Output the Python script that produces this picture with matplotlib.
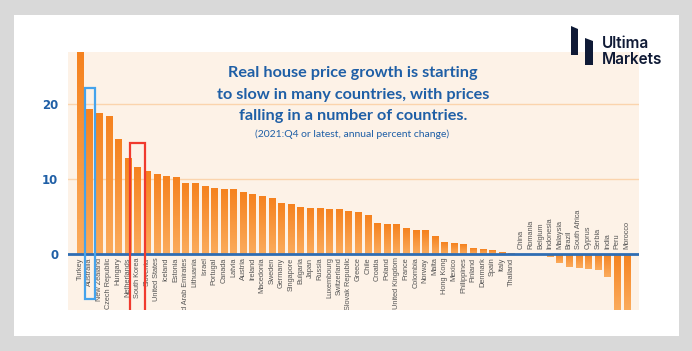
import numpy as np
import matplotlib
matplotlib.use("Agg")
import matplotlib.pyplot as plt
from matplotlib.patches import Rectangle, Polygon
from matplotlib.colors import LinearSegmentedColormap

# data (annual % change, 2021:Q4 or latest)
countries = [
    "Turkey", "Australia", "New Zealand", "Czech Republic", "Hungary",
    "Netherlands", "South Korea", "Slovenia", "United States", "Iceland",
    "Estonia", "United Arab Emirates", "Lithuania", "Israel", "Portugal",
    "Canada", "Latvia", "Austria", "Ireland", "Macedonia", "Sweden",
    "Germany", "Singapore", "Bulgaria", "Japan", "Russia", "Luxembourg",
    "Switzerland", "Slovak Republic", "Greece", "Chile", "Croatia", "Poland",
    "United Kingdom", "France", "Colombia", "Norway", "Malta", "Hong Kong",
    "Mexico", "Philippines", "Finland", "Denmark", "Spain", "Italy",
    "Thailand", "China", "Romania", "Belgium", "Indonesia", "Malaysia",
    "Brazil", "South Africa", "Cyprus", "Serbia", "India", "Peru", "Morocco",
]
growth = [
    59.0, 19.3, 18.8, 18.4, 15.3, 12.8, 11.6, 11.1, 10.6, 10.4,
    10.3, 9.5, 9.5, 9.0, 8.8, 8.7, 8.65, 8.2, 8.0, 7.7, 7.4,
    6.7, 6.6, 6.2, 6.15, 6.1, 5.9, 5.9, 5.65, 5.5, 5.2, 4.05, 4.0,
    3.9, 3.4, 3.1, 3.1, 2.3, 1.6, 1.45, 1.25, 0.7, 0.6, 0.45, 0.2,
    0.05, -0.05, -0.1, -0.2, -0.4, -1.3, -1.75, -1.9, -2.05, -2.2,
    -3.1, -10.0, -10.0,
]
yticks = [0, 10, 20]
highlights = [("Australia", "#45a3ec", 22.2, -6.1, 0.52),
              ("South Korea", "#f03a2e", 14.8, -9.0, 0.74)]

title = ("Real house price growth is starting\n"
         "to slow in many countries, with prices\n"
         "falling in a number of countries.")
subtitle = "(2021:Q4 or latest, annual percent change)"

BLUE = "#1f5fa6"
PANEL = "#fdf2e7"
GRID = "#fbd4ad"
YLIM = (-7.56, 26.97)

W, H = 692, 351
fig = plt.figure(figsize=(W / 100, H / 100), dpi=100)
fig.patch.set_facecolor("#d9d9d9")

# white card behind everything
fig.patches.append(Rectangle((14 / W, 1 - 336 / H), 665 / W, 321 / H,
                             transform=fig.transFigure, facecolor="white",
                             edgecolor="none", zorder=-5))

ax = fig.add_axes([68 / W, 1 - 310 / H, 571 / W, 258 / H])
ax.set_facecolor(PANEL)
for s in ax.spines.values():
    s.set_visible(False)

x = np.arange(len(countries))

for t in yticks[1:]:
    ax.axhline(t, color=GRID, lw=1.0, zorder=1)

cmap = LinearSegmentedColormap.from_list("bar", ["#fbab5c", "#f5821f"])
bars = ax.bar(x, growth, width=0.66, color="#f68b2c", zorder=2)
grad = np.linspace(0, 1, 64).reshape(-1, 1)
for b in bars:
    x0, y0 = b.get_x(), b.get_y()
    x1, y1 = x0 + b.get_width(), y0 + b.get_height()
    lo = max(min(y0, y1), YLIM[0])
    hi = min(max(y0, y1), YLIM[1])
    if hi - lo < 0.05:
        continue
    im = ax.imshow(grad, extent=[x0, x1, lo, hi], origin="lower",
                   cmap=cmap, aspect="auto", zorder=2.5)
    im.set_clip_path(b)

ax.set_xlim(-1.25, len(countries) + 0.28)
ax.set_ylim(*YLIM)

ax.axhline(0, color="#2f6db3", lw=2.0, zorder=4)

ax.set_xticks([])
ax.set_yticks(yticks)
ax.set_yticklabels([str(t) for t in yticks], color=BLUE,
                   fontweight="bold", fontsize=8.5)
ax.tick_params(axis="y", length=0, pad=7)

for i, (name, v) in enumerate(zip(countries, growth)):
    if v >= 0:
        ax.text(i, -0.55, name, rotation=90, ha="center", va="top",
                fontsize=5.3, color="#555555", family="Liberation Sans",
                clip_on=True, zorder=5)
    else:
        ax.text(i, 0.55, name, rotation=90, ha="center", va="bottom",
                fontsize=5.3, color="#555555", family="Liberation Sans",
                clip_on=True, zorder=5)

for name, col, top, bot, hw in highlights:
    i = countries.index(name)
    ax.add_patch(Rectangle((i - hw, bot), 2 * hw, top - bot, fill=False,
                           edgecolor=col, lw=1.6, zorder=6, clip_on=True))

fig.text(353 / W, 1 - 94.5 / H, title, ha="center", va="center",
         fontsize=11.7, color=BLUE, family="Lato", fontweight="bold",
         linespacing=1.68)
fig.text(352 / W, 1 - 134 / H, subtitle, ha="center", va="center",
         fontsize=7.5, color=BLUE, family="Lato")

# logo
navy = "#0f1a36"
fig.patches.append(Polygon([(571 / W, 1 - 26 / H), (578 / W, 1 - 29 / H),
                            (578 / W, 1 - 55 / H), (571 / W, 1 - 55 / H)],
                           closed=True, transform=fig.transFigure,
                           facecolor=navy, edgecolor="none"))
fig.patches.append(Polygon([(585 / W, 1 - 38 / H), (593 / W, 1 - 41 / H),
                            (593 / W, 1 - 65 / H), (585 / W, 1 - 65 / H)],
                           closed=True, transform=fig.transFigure,
                           facecolor=navy, edgecolor="none"))
fig.text(602 / W, 1 - 44 / H, "Ultima", ha="left", va="center",
         fontsize=11, color=navy, family="Inter", fontweight="semibold")
fig.text(602 / W, 1 - 60 / H, "Markets", ha="left", va="center",
         fontsize=11, color=navy, family="Inter", fontweight="semibold")

fig.savefig("out.png", dpi=100, facecolor=fig.get_facecolor())
